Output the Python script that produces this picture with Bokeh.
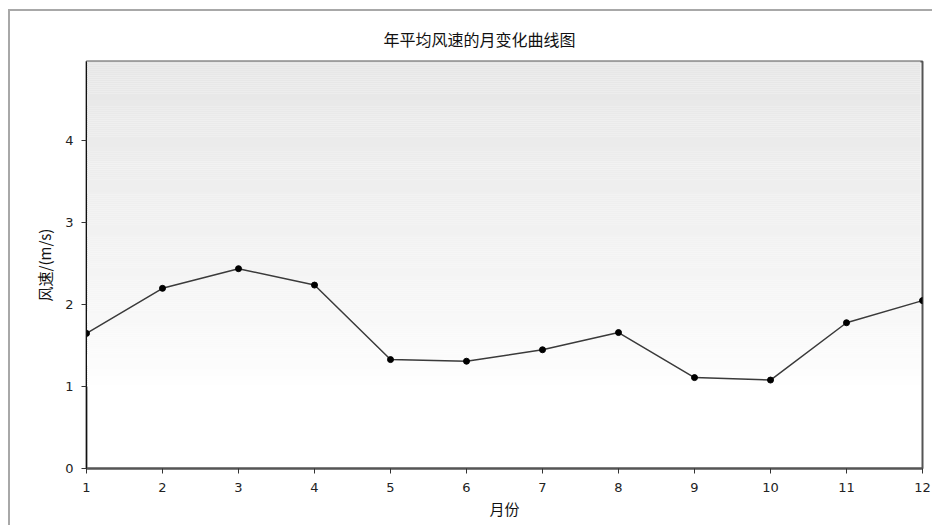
import numpy as np
from bokeh.plotting import figure
from bokeh.models import Range1d, FixedTicker, ColumnDataSource
from bokeh.embed import file_html
from bokeh.resources import INLINE

# data
months = [1, 2, 3, 4, 5, 6, 7, 8, 9, 10, 11, 12]
wind_speed = [1.65, 2.20, 2.44, 2.24, 1.33, 1.31, 1.45, 1.66, 1.11, 1.08, 1.78, 2.05]
y_ticks = [0, 1, 2, 3, 4]
title_text = "年平均风速的月变化曲线图"
x_label = "月份"
y_label = "风速/(m/s)"

CJK = "Noto Sans CJK SC"

p = figure(width=924, height=516, output_backend="svg", toolbar_location=None,
           x_range=Range1d(1, 12), y_range=Range1d(0, 4.97),
           min_border_left=76, min_border_right=12, min_border_top=50, min_border_bottom=59)

p.styles = {"margin-left": "8px", "margin-top": "9px",
            "border-top": "2px solid #a8a8a8", "border-left": "2px solid #a8a8a8"}

# gradient background of the plot area (decoration), stopping short of the right frame edge
px = (12 - 1) / 836.0
n = 160
edges = np.linspace(1.0, 5.0, n + 1)
cols = []
for i in range(n):
    t = ((i + 0.5) / n) ** 0.8
    g = int(round(255 - (255 - 230) * t))
    cols.append("#%02x%02x%02x" % (g, g, g))
bg = p.quad(left=0, right=12 - 2.0 * px, bottom=edges[:-1], top=edges[1:],
            fill_color=cols, line_color=None)
bg.level = "image"

p.background_fill_color = "white"
p.border_fill_color = "white"
p.outline_line_color = "#555555"
p.outline_line_width = 2
p.grid.visible = False

src = ColumnDataSource(dict(x=months, y=wind_speed))
p.line("x", "y", source=src, line_color="#3a3a3a", line_width=1.5)
p.scatter("x", "y", source=src, size=6, fill_color="black", line_color="black")

# title
p.title.text = title_text
p.title.text_font = CJK
p.title.text_font_size = "16px"
p.title.text_font_style = "normal"
p.title.text_color = "#111111"
p.title.align = "left"
p.title.offset = 297
p.title.standoff = 21

for ax in (p.xaxis[0], p.yaxis[0]):
    ax.major_label_text_font = "DejaVu Sans"
    ax.major_label_text_font_size = "13px"
    ax.major_label_text_color = "#222222"
    ax.axis_label_text_font = CJK
    ax.axis_label_text_font_size = "15px"
    ax.axis_label_text_font_style = "normal"
    ax.axis_label_text_color = "#111111"
    ax.minor_tick_line_color = None
    ax.major_tick_out = 5
    ax.major_tick_in = 0
    ax.major_tick_line_color = "#333333"

p.xaxis[0].ticker = FixedTicker(ticks=months)
p.yaxis[0].ticker = FixedTicker(ticks=y_ticks)
p.xaxis[0].axis_label = x_label
p.yaxis[0].axis_label = y_label
p.xaxis[0].axis_line_color = "#555555"
p.xaxis[0].axis_line_width = 2
p.yaxis[0].axis_line_color = "#111111"
p.xaxis[0].axis_label_standoff = 3
p.yaxis[0].axis_label_standoff = 7
p.xaxis[0].major_label_standoff = 9
p.yaxis[0].major_label_standoff = 8

open("out.html", "w").write(file_html(p, INLINE))
